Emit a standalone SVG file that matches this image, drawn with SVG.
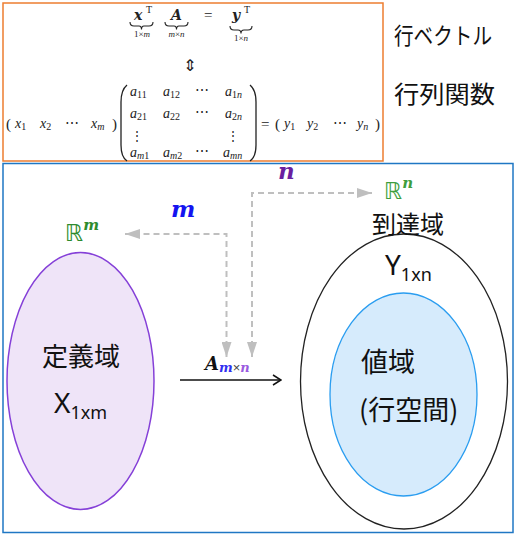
<svg xmlns="http://www.w3.org/2000/svg" width="518" height="536" viewBox="0 0 518 536">
<style>
.m{font-family:"Liberation Serif",serif;font-style:italic;fill:#222}
.mb{font-family:"DejaVu Serif",serif;font-style:italic;font-weight:bold}
.r{font-family:"Liberation Serif",serif;fill:#222}
.jp{font-family:"Noto Sans CJK JP",sans-serif;fill:#111}
.lat{font-family:"Noto Sans","Liberation Sans",sans-serif;fill:#111}
.bb{font-family:"DejaVu Sans",sans-serif}
.brace{fill:none;stroke:#222;stroke-width:1.1}
.dash{fill:none;stroke:#BFBFBF;stroke-width:2;stroke-dasharray:6 4}
</style>
<defs>
<marker id="ga" markerUnits="userSpaceOnUse" markerWidth="16" markerHeight="10" refX="15" refY="5" orient="auto-start-reverse">
<path d="M0,0 L15,5 L0,10 z" fill="#BFBFBF"/>
</marker>
<marker id="ka" markerUnits="userSpaceOnUse" markerWidth="10" markerHeight="12" refX="9" refY="6" orient="auto">
<path d="M1,1 L9,6 L1,11" fill="none" stroke="#111" stroke-width="1.5"/>
</marker>
</defs>

<g id="formula-box">
<rect x="3" y="3" width="380" height="158" fill="#fff" stroke="#ED7D31" stroke-width="1.5"/>
<text class="mb" x="134" y="20" font-size="14" fill="#222">x</text>
<text class="r" x="146" y="13" font-size="10">T</text>
<path class="brace" d="M130,22 Q130,26 134,26 L139,26 Q141.5,26 141.5,29.5 Q141.5,26 144,26 L149,26 Q153,26 153,22"/>
<text class="r" x="142" y="37" font-size="9" text-anchor="middle">1×<tspan font-style="italic">m</tspan></text>
<text class="mb" x="171" y="20" font-size="14" fill="#222">A</text>
<path class="brace" d="M165,22 Q165,26 169,26 L174,26 Q176.5,26 176.5,29.5 Q176.5,26 179,26 L184,26 Q188,26 188,22"/>
<text class="m" x="176.5" y="37" font-size="9" text-anchor="middle">m<tspan font-style="normal">×</tspan>n</text>
<text class="r" x="204" y="20" font-size="15">=</text>
<text class="mb" x="232" y="20" font-size="14" fill="#222">y</text>
<text class="r" x="244" y="13" font-size="10">T</text>
<path class="brace" d="M230,26 Q230,30 234,30 L238,30 Q241,30 241,33.5 Q241,30 244,30 L248,30 Q252,30 252,26"/>
<text class="r" x="241" y="41" font-size="9" text-anchor="middle">1×<tspan font-style="italic">n</tspan></text>
<text class="bb" x="190" y="71" font-size="16" text-anchor="middle" fill="#222">⇕</text>

<text class="r" x="6" y="129" font-size="15">(</text>
<text class="m" x="15" y="128" font-size="14">x<tspan font-size="10" font-style="normal" dy="2">1</tspan></text>
<text class="m" x="40" y="128" font-size="14">x<tspan font-size="10" font-style="normal" dy="2">2</tspan></text>
<text class="r" x="65" y="128" font-size="14">⋯</text>
<text class="m" x="91" y="128" font-size="14">x<tspan font-size="10" dy="2">m</tspan></text>
<text class="r" x="112" y="129" font-size="15">)</text>
<path d="M127,85 Q121,90 121,102 L121,145 Q121,157 127,161" fill="none" stroke="#222" stroke-width="1.3"/>
<path d="M250,85 Q256,90 256,102 L256,145 Q256,157 250,161" fill="none" stroke="#222" stroke-width="1.3"/>

<text class="m" x="130" y="96" font-size="14">a<tspan font-size="10" font-style="normal" dy="2">11</tspan></text>
<text class="m" x="163" y="96" font-size="14">a<tspan font-size="10" font-style="normal" dy="2">12</tspan></text>
<text class="r" x="195" y="95" font-size="14">⋯</text>
<text class="m" x="225" y="96" font-size="14">a<tspan font-size="10" font-style="normal" dy="2">1</tspan><tspan font-size="10" dy="0">n</tspan></text>
<text class="m" x="130" y="118" font-size="14">a<tspan font-size="10" font-style="normal" dy="2">21</tspan></text>
<text class="m" x="163" y="118" font-size="14">a<tspan font-size="10" font-style="normal" dy="2">22</tspan></text>
<text class="r" x="195" y="117" font-size="14">⋯</text>
<text class="m" x="225" y="118" font-size="14">a<tspan font-size="10" font-style="normal" dy="2">2</tspan><tspan font-size="10" dy="0">n</tspan></text>
<text class="r" x="137" y="140" font-size="12" text-anchor="middle">⋮</text>
<text class="r" x="233" y="140" font-size="12" text-anchor="middle">⋮</text>
<text class="m" x="130" y="157" font-size="14">a<tspan font-size="10" dy="2">m</tspan><tspan font-size="10" font-style="normal" dy="0">1</tspan></text>
<text class="m" x="163" y="157" font-size="14">a<tspan font-size="10" dy="2">m</tspan><tspan font-size="10" font-style="normal" dy="0">2</tspan></text>
<text class="r" x="195" y="156" font-size="14">⋯</text>
<text class="m" x="223" y="157" font-size="14">a<tspan font-size="10" dy="2">mn</tspan></text>

<text class="r" x="261" y="129" font-size="15">=</text>
<text class="r" x="275" y="129" font-size="15">(</text>
<text class="m" x="284" y="128" font-size="14">y<tspan font-size="10" font-style="normal" dy="2">1</tspan></text>
<text class="m" x="307" y="128" font-size="14">y<tspan font-size="10" font-style="normal" dy="2">2</tspan></text>
<text class="r" x="333" y="128" font-size="14">⋯</text>
<text class="m" x="357" y="128" font-size="14">y<tspan font-size="10" dy="2">n</tspan></text>
<text class="r" x="375" y="129" font-size="15">)</text>
</g>

<g id="label-row-vector">
<text class="jp" x="394" y="44" font-size="23" textLength="98" lengthAdjust="spacingAndGlyphs">行ベクトル</text>
</g>
<g id="label-matrix-function">
<text class="jp" x="394" y="103" font-size="24" textLength="101" lengthAdjust="spacingAndGlyphs">行列関数</text>
</g>

<g id="frame">
<rect x="3" y="163.5" width="510" height="369" fill="none" stroke="#1F77C4" stroke-width="1.5"/>
</g>

<g id="domain">
<ellipse cx="80.5" cy="381" rx="73.5" ry="128.5" fill="#EFE4F8" stroke="#8540D8" stroke-width="1.5"/>
<text class="jp" x="42" y="366" font-size="26">定義域</text>
<text class="lat" x="54" y="413" font-size="28">X<tspan font-size="18" dy="6">1xm</tspan></text>
</g>

<g id="codomain">
<ellipse cx="404" cy="381.5" rx="103.5" ry="147.5" fill="#fff" stroke="#222" stroke-width="1.3"/>
<text class="jp" x="372" y="233" font-size="24">到達域</text>
<text class="lat" x="385" y="275" font-size="28">Y<tspan font-size="18" dy="6">1xn</tspan></text>
</g>

<g id="range">
<ellipse cx="403.5" cy="394.5" rx="73.5" ry="101.5" fill="#D6EBFC" stroke="#2A9DF0" stroke-width="1.3"/>
<text class="jp" x="361" y="372" font-size="27">値域</text>
<text class="jp" x="359" y="420" font-size="27">(行空間)</text>
</g>

<g id="space-Rm">
<text class="bb" x="65" y="241" font-size="23" fill="#2E8B2E">ℝ<tspan class="mb" font-size="15" dy="-11">m</tspan></text>
</g>
<g id="space-Rn">
<text class="bb" x="384" y="199" font-size="23" fill="#3E9E3E">ℝ<tspan class="mb" font-size="15" dy="-11">n</tspan></text>
</g>

<g id="connectors">
<path class="dash" d="M226.5,357 L226.5,234 L125,234" marker-end="url(#ga)" marker-start="url(#ga)"/>
<path class="dash" d="M252,357 L252,193 L372,193" marker-end="url(#ga)" marker-start="url(#ga)"/>
<line x1="180" y1="380" x2="281" y2="380" stroke="#111" stroke-width="1.5" marker-end="url(#ka)"/>
</g>

<g id="labels">
<text class="mb" x="171" y="217" font-size="23" fill="#1414F0">m</text>
<text class="mb" x="278" y="179" font-size="23" fill="#6A1FA0">n</text>
<text class="mb" x="205" y="370" font-size="18" fill="#111">A<tspan font-size="13" fill="#3030F0" dy="2">m</tspan><tspan font-family="Liberation Sans,sans-serif" font-style="normal" font-weight="normal" font-size="13" fill="#444">×</tspan><tspan font-size="13" fill="#9A5AE0">n</tspan></text>
</g>
</svg>
